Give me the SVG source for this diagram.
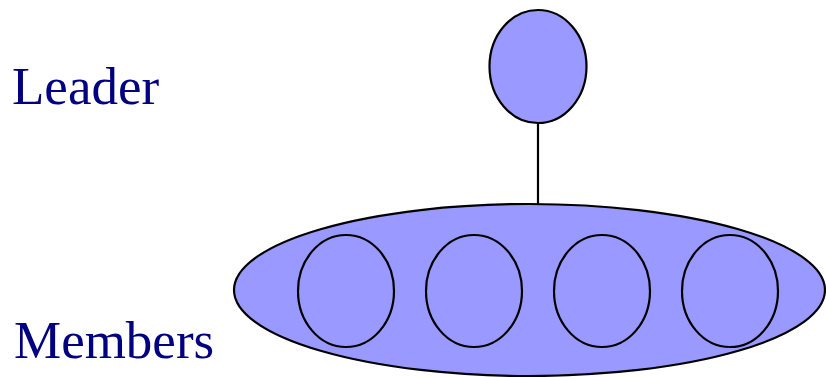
<svg xmlns="http://www.w3.org/2000/svg" width="826" height="377" viewBox="0 0 826 377">
<style>
.n{fill:#9999ff;stroke:#000;stroke-width:2.2}
.lbl{font-family:"Liberation Serif","Times New Roman",serif;font-size:53px;fill:#000080}
.c{stroke:#000;stroke-width:2.2;fill:none}
</style>
<rect width="826" height="377" fill="#fff"/>
<text class="lbl" x="12" y="104">Leader</text>
<text class="lbl" x="14" y="358">Members</text>
<g id="connectors"><line class="c" x1="538" y1="122" x2="538" y2="204"/></g>
<g id="group"><ellipse class="n" cx="529.5" cy="290" rx="295.5" ry="86"/></g>
<g id="leader"><ellipse class="n" cx="538" cy="66.5" rx="48.5" ry="56.5"/></g>
<g id="m1"><ellipse class="n" cx="346" cy="291" rx="48" ry="56"/></g>
<g id="m2"><ellipse class="n" cx="474" cy="291" rx="48" ry="56"/></g>
<g id="m3"><ellipse class="n" cx="602" cy="291" rx="48" ry="56"/></g>
<g id="m4"><ellipse class="n" cx="730" cy="291" rx="48" ry="56"/></g>
</svg>
